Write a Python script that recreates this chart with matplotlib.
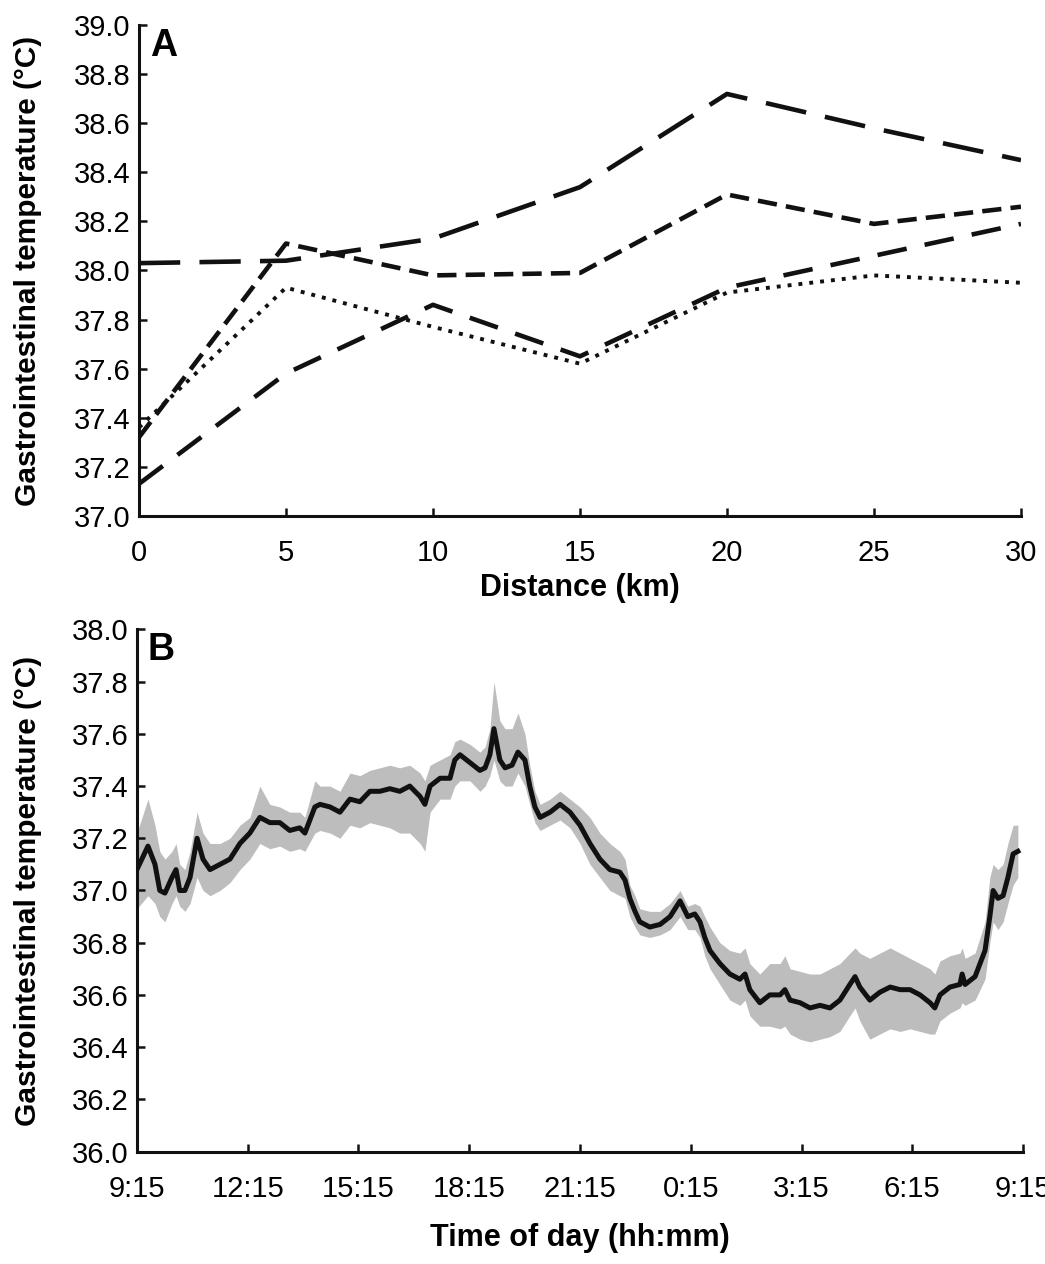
import numpy as np
import matplotlib.pyplot as plt

plt.rcParams['font.family'] = ['Liberation Sans', 'DejaVu Sans']

# Panel A: gastrointestinal temperature by distance (four runners)
distance = [0, 5, 10, 15, 20, 25, 30]
runner_1 = [38.03, 38.04, 38.13, 38.34, 38.72, 38.58, 38.45]
runner_2 = [37.32, 38.11, 37.98, 37.99, 38.31, 38.19, 38.26]
runner_3 = [37.36, 37.93, 37.77, 37.62, 37.91, 37.98, 37.95]
runner_4 = [37.13, 37.58, 37.86, 37.65, 37.93, 38.06, 38.19]

# Panel B: mean temperature over a day (hours after 9:15) with spread
hours = [0.0, 0.30, 0.49, 0.62, 0.76, 0.95, 1.06, 1.16, 1.30, 1.44, 1.63, 1.79, 1.98,
         2.25, 2.52, 2.79, 3.06, 3.33, 3.60, 3.87, 4.14, 4.41, 4.55, 4.82, 4.96, 5.23,
         5.50, 5.77, 6.04, 6.31, 6.58, 6.85, 7.12, 7.39, 7.67, 7.80, 7.94, 8.21, 8.48,
         8.61, 8.75, 9.02, 9.29, 9.43, 9.56, 9.67, 9.83, 9.97, 10.16, 10.32, 10.51,
         10.64, 10.78, 10.92, 11.19, 11.46, 11.73, 12.00, 12.27, 12.54, 12.81, 13.08,
         13.22, 13.35, 13.49, 13.62, 13.89, 14.17, 14.44, 14.71, 14.92, 15.11, 15.25,
         15.38, 15.52, 15.79, 16.06, 16.33, 16.47, 16.60, 16.87, 17.14, 17.42, 17.55,
         17.69, 17.96, 18.23, 18.50, 18.77, 19.04, 19.31, 19.45, 19.58, 19.85, 20.12,
         20.40, 20.67, 20.94, 21.21, 21.48, 21.61, 21.75, 22.02, 22.29, 22.35, 22.43,
         22.70, 22.97, 23.10, 23.19, 23.32, 23.46, 23.59, 23.73, 23.86]
temp_mean = [37.08, 37.17, 37.10, 37.00, 36.99, 37.05, 37.08, 37.00, 37.00, 37.05, 37.20, 37.12, 37.08,
             37.10, 37.12, 37.18, 37.22, 37.28, 37.26, 37.26, 37.23, 37.24, 37.22, 37.32, 37.33, 37.32,
             37.30, 37.35, 37.34, 37.38, 37.38, 37.39, 37.38, 37.40, 37.36, 37.33, 37.40, 37.43, 37.43,
             37.50, 37.52, 37.49, 37.46, 37.47, 37.52, 37.62, 37.50, 37.47, 37.48, 37.53, 37.50,
             37.40, 37.32, 37.28, 37.30, 37.33, 37.30, 37.25, 37.18, 37.12, 37.08, 37.07,
             37.04, 36.97, 36.92, 36.88, 36.86, 36.87, 36.90, 36.96, 36.90, 36.91, 36.88,
             36.82, 36.77, 36.72, 36.68, 36.66, 36.68, 36.62, 36.57, 36.60, 36.60, 36.62,
             36.58, 36.57, 36.55, 36.56, 36.55, 36.58, 36.64, 36.67, 36.63, 36.58, 36.61,
             36.63, 36.62, 36.62, 36.60, 36.57, 36.55, 36.60, 36.63, 36.64, 36.68, 36.64,
             36.67, 36.77, 36.90, 37.00, 36.97, 36.98, 37.05, 37.14, 37.15]
temp_upper = [37.22, 37.35, 37.25, 37.15, 37.12, 37.15, 37.18, 37.10, 37.08, 37.15, 37.30, 37.22, 37.18,
              37.18, 37.20, 37.25, 37.28, 37.40, 37.33, 37.32, 37.30, 37.30, 37.28, 37.42, 37.40, 37.40,
              37.38, 37.45, 37.44, 37.46, 37.47, 37.48, 37.47, 37.48, 37.45, 37.42, 37.48, 37.50, 37.52,
              37.57, 37.58, 37.56, 37.53, 37.55, 37.62, 37.80, 37.65, 37.62, 37.62, 37.68, 37.60,
              37.48, 37.38, 37.33, 37.35, 37.38, 37.35, 37.32, 37.28, 37.22, 37.18, 37.15,
              37.12, 37.02, 36.98, 36.93, 36.92, 36.92, 36.95, 37.00, 36.94, 36.95, 36.94,
              36.90, 36.86, 36.80, 36.77, 36.76, 36.78, 36.72, 36.68, 36.72, 36.72, 36.75,
              36.70, 36.69, 36.68, 36.68, 36.70, 36.72, 36.76, 36.78, 36.76, 36.74, 36.76,
              36.78, 36.76, 36.74, 36.72, 36.70, 36.68, 36.73, 36.75, 36.76, 36.78, 36.74,
              36.76, 36.88, 37.05, 37.10, 37.08, 37.10, 37.18, 37.25, 37.25]
temp_lower = [36.93, 36.98, 36.95, 36.90, 36.88, 36.95, 36.98, 36.94, 36.92, 36.95, 37.05, 37.00, 36.98,
              37.00, 37.03, 37.08, 37.12, 37.18, 37.16, 37.17, 37.15, 37.16, 37.15, 37.22, 37.23, 37.22,
              37.20, 37.25, 37.24, 37.26, 37.25, 37.24, 37.22, 37.22, 37.18, 37.15, 37.30, 37.35, 37.35,
              37.40, 37.42, 37.42, 37.38, 37.40, 37.44, 37.50, 37.42, 37.40, 37.40, 37.45, 37.40,
              37.33, 37.26, 37.23, 37.25, 37.27, 37.24, 37.18, 37.10, 37.05, 37.00, 36.98,
              36.97, 36.90, 36.86, 36.83, 36.82, 36.83, 36.85, 36.90, 36.85, 36.85, 36.82,
              36.75, 36.70, 36.64, 36.58, 36.56, 36.58, 36.52, 36.48, 36.48, 36.47, 36.48,
              36.45, 36.43, 36.42, 36.43, 36.44, 36.46, 36.52, 36.55, 36.50, 36.43, 36.45,
              36.47, 36.46, 36.47, 36.46, 36.45, 36.45, 36.50, 36.53, 36.55, 36.57, 36.56,
              36.58, 36.66, 36.80, 36.88, 36.85, 36.88, 36.95, 37.02, 37.05]
time_ticks = [0, 3, 6, 9, 12, 15, 18, 21, 24]
time_labels = ['9:15', '12:15', '15:15', '18:15', '21:15', '0:15', '3:15', '6:15', '9:15']

ink = '#111111'
fig = plt.figure(figsize=(10.45, 12.64), dpi=100)
ax1 = fig.add_axes([0.133, 0.592, 0.844, 0.388])
ax2 = fig.add_axes([0.131, 0.089, 0.848, 0.413])

lw = 3.3
ax1.plot(distance, runner_1, color=ink, lw=lw, linestyle=(0, (9, 4.2)))
ax1.plot(distance, runner_2, color=ink, lw=lw, linestyle=(0, (4.2, 2.0)))
ax1.plot(distance, runner_3, color=ink, lw=lw * 0.85, linestyle=(0, (1, 1.8)))
ax1.plot(distance, runner_4, color=ink, lw=lw, linestyle=(0, (6.5, 4.0)))
ax1.set_xlim(0, 30)
ax1.set_ylim(37.0, 39.0)
ax1.set_xticks(distance)
ax1.set_yticks(np.arange(37.0, 39.01, 0.2))
ax1.set_yticklabels([f'{v:.1f}' for v in np.arange(37.0, 39.01, 0.2)])
ax1.set_xlabel('Distance (km)', fontsize=22, fontweight='bold', labelpad=4)
ax1.text(0.012, 0.995, 'A', transform=ax1.transAxes, fontsize=27, fontweight='bold',
         va='top', ha='left')
ax1.yaxis.set_label_coords(-0.11, 0.5)

ax2.fill_between(hours, temp_lower, temp_upper, color='#bdbdbd', lw=0)
ax2.plot(hours, temp_mean, color=ink, lw=3.6)
ax2.set_xlim(0, 24)
ax2.set_ylim(36.0, 38.0)
ax2.set_xticks(time_ticks)
ax2.set_xticklabels(time_labels)
ax2.set_yticks(np.arange(36.0, 38.01, 0.2))
ax2.set_yticklabels([f'{v:.1f}' for v in np.arange(36.0, 38.01, 0.2)])
ax2.set_xlabel('Time of day (hh:mm)', fontsize=22, fontweight='bold', labelpad=14)
ax2.text(0.012, 0.995, 'B', transform=ax2.transAxes, fontsize=27, fontweight='bold',
         va='top', ha='left')
ax2.yaxis.set_label_coords(-0.107, 0.5)

for ax in (ax1, ax2):
    for side in ('top', 'right'):
        ax.spines[side].set_visible(False)
    for side in ('left', 'bottom'):
        ax.spines[side].set_linewidth(2.2)
        ax.spines[side].set_color(ink)
    ax.tick_params(direction='in', length=6, width=1.8, color=ink, labelsize=21)
    ax.tick_params(axis='x', pad=17)
    ax.tick_params(axis='y', pad=6)
    ax.set_ylabel('Gastrointestinal temperature (°C)', fontsize=21.5, fontweight='bold')

fig.savefig('out.png', dpi=100)
